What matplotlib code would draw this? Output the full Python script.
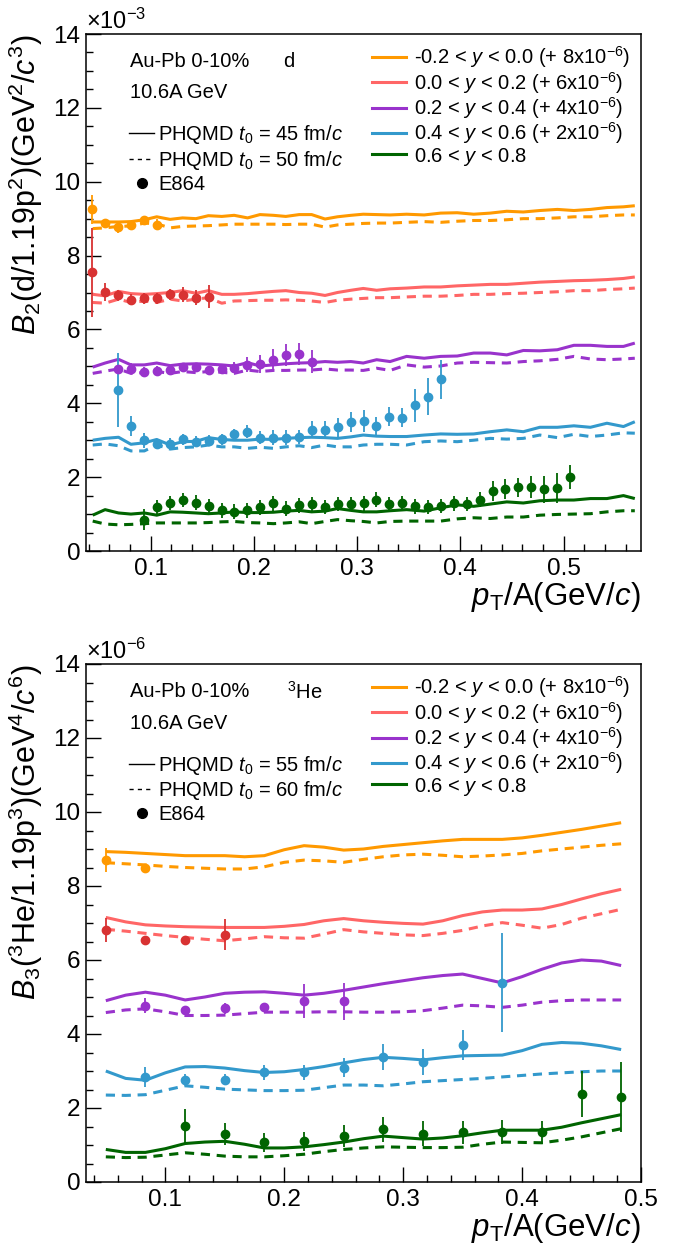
import matplotlib
matplotlib.use("Agg")
import matplotlib.pyplot as plt
from matplotlib.lines import Line2D
from matplotlib.ticker import MultipleLocator

plt.rcParams['font.family'] = ['Liberation Sans', 'DejaVu Sans']
plt.rcParams['mathtext.fontset'] = 'custom'
plt.rcParams['mathtext.rm'] = 'Liberation Sans'
plt.rcParams['mathtext.it'] = 'Liberation Sans:italic'
plt.rcParams['mathtext.bf'] = 'Liberation Sans:bold'

# ---------------- colours / labels ----------------
line_colors = ['#ff9900', '#ff6666', '#9933cc', '#3399cc', '#006400']
point_colors = ['#ff9900', '#d83232', '#9933cc', '#3399cc', '#006400']
rap_labels = ['-0.2 < $y$ < 0.0 (+ 8x10$^{-6}$)',
              '0.0 < $y$ < 0.2 (+ 6x10$^{-6}$)',
              '0.2 < $y$ < 0.4 (+ 4x10$^{-6}$)',
              '0.4 < $y$ < 0.6 (+ 2x10$^{-6}$)',
              '0.6 < $y$ < 0.8']

# ---------------- top panel: deuteron B2 (x1e-3) ----------------
d_x = [0.044, 0.056, 0.069, 0.081, 0.094, 0.106, 0.119, 0.131, 0.144, 0.156,
       0.169, 0.181, 0.194, 0.206, 0.219, 0.231, 0.244, 0.256, 0.269, 0.281,
       0.294, 0.306, 0.319, 0.332, 0.348, 0.365, 0.381, 0.397, 0.413, 0.429,
       0.445, 0.461, 0.477, 0.494, 0.510, 0.526, 0.542, 0.558, 0.569]

d_solid = [
    [8.91, 8.91, 8.91, 8.92, 8.97, 9.05, 8.98, 9.02, 9.00, 9.08, 9.06, 9.09, 9.02,
     9.11, 9.09, 9.06, 9.11, 9.11, 8.99, 9.05, 9.09, 9.12, 9.11, 9.10, 9.12, 9.10,
     9.15, 9.16, 9.12, 9.15, 9.20, 9.18, 9.22, 9.25, 9.22, 9.25, 9.30, 9.32, 9.35],
    [6.95, 6.91, 7.03, 6.97, 6.95, 6.97, 7.00, 7.05, 6.98, 7.05, 6.95, 6.95, 6.97,
     7.00, 7.03, 7.05, 7.00, 6.98, 6.92, 7.00, 7.06, 7.11, 7.06, 7.10, 7.12, 7.15,
     7.15, 7.18, 7.20, 7.22, 7.22, 7.25, 7.28, 7.30, 7.32, 7.33, 7.35, 7.38, 7.42],
    [4.98, 5.09, 5.19, 5.04, 5.04, 5.09, 5.02, 5.06, 5.07, 5.06, 5.04, 5.01, 5.10,
     5.01, 5.04, 5.07, 5.09, 5.10, 5.13, 5.11, 5.13, 5.09, 5.18, 5.13, 5.27, 5.22,
     5.27, 5.28, 5.36, 5.36, 5.31, 5.43, 5.42, 5.45, 5.57, 5.57, 5.54, 5.54, 5.63],
    [3.00, 3.05, 3.08, 2.89, 2.93, 3.02, 2.87, 2.96, 2.97, 3.07, 3.02, 3.00, 3.00,
     3.03, 3.02, 3.05, 3.07, 3.08, 3.07, 3.05, 3.09, 3.14, 3.11, 3.10, 3.10, 3.14,
     3.17, 3.16, 3.17, 3.23, 3.28, 3.23, 3.35, 3.35, 3.39, 3.35, 3.46, 3.37, 3.50],
    [0.97, 1.12, 1.03, 1.00, 1.03, 0.97, 1.06, 1.05, 1.03, 1.01, 1.03, 1.06, 1.04,
     1.04, 1.05, 1.08, 1.10, 1.06, 1.08, 1.15, 1.10, 1.06, 1.06, 1.09, 1.12, 1.08,
     1.17, 1.25, 1.21, 1.27, 1.33, 1.30, 1.36, 1.38, 1.38, 1.42, 1.42, 1.50, 1.42],
]
d_dashed = [
    [8.73, 8.75, 8.79, 8.80, 8.88, 8.86, 8.75, 8.79, 8.80, 8.81, 8.83, 8.85, 8.85,
     8.85, 8.85, 8.84, 8.85, 8.85, 8.77, 8.83, 8.85, 8.87, 8.88, 8.88, 8.90, 8.92,
     8.90, 8.93, 8.95, 8.95, 8.97, 9.00, 9.00, 9.02, 9.05, 9.05, 9.08, 9.10, 9.10],
    [6.73, 6.71, 6.82, 6.73, 6.77, 6.73, 6.82, 6.77, 6.82, 6.86, 6.71, 6.77, 6.78,
     6.79, 6.79, 6.80, 6.79, 6.77, 6.73, 6.79, 6.82, 6.84, 6.86, 6.86, 6.88, 6.90,
     6.90, 6.92, 6.95, 6.95, 6.97, 6.98, 7.00, 7.02, 7.05, 7.05, 7.08, 7.10, 7.12],
    [4.81, 4.87, 4.93, 4.81, 4.83, 4.86, 4.81, 4.86, 4.83, 4.86, 4.84, 4.81, 4.90,
     4.86, 4.89, 4.89, 4.90, 4.90, 4.93, 4.90, 4.90, 4.89, 4.95, 4.89, 5.04, 4.98,
     5.01, 5.09, 5.11, 5.10, 5.09, 5.13, 5.15, 5.19, 5.27, 5.20, 5.18, 5.20, 5.22],
    [2.87, 2.90, 2.85, 2.71, 2.71, 2.87, 2.76, 2.80, 2.82, 2.87, 2.82, 2.82, 2.78,
     2.81, 2.78, 2.82, 2.85, 2.80, 2.87, 2.82, 2.82, 2.87, 2.89, 2.89, 2.87, 2.96,
     2.98, 2.96, 3.00, 3.05, 3.03, 3.05, 3.14, 3.07, 3.16, 3.10, 3.14, 3.20, 3.19],
    [0.81, 0.73, 0.71, 0.72, 0.74, 0.76, 0.76, 0.76, 0.76, 0.77, 0.79, 0.80, 0.77,
     0.76, 0.74, 0.76, 0.79, 0.74, 0.80, 0.85, 0.82, 0.80, 0.76, 0.80, 0.81, 0.81,
     0.81, 0.87, 0.90, 0.88, 0.92, 0.92, 0.97, 0.99, 1.00, 1.01, 1.06, 1.09, 1.09],
]

# E864 deuteron points (bin centres 0.04375 + 0.0125*i)
d_pt_x = [0.04375 + 0.0125 * i for i in range(38)]
d_pt_first = [0, 0, 2, 2, 4]
d_pt_y = [
    [9.25, 8.88, 8.77, 8.82, 8.95, 8.83],
    [7.55, 7.02, 6.93, 6.80, 6.84, 6.85, 6.95, 6.94, 6.86, 6.89],
    [4.93, 4.93, 4.86, 4.88, 4.90, 4.98, 4.98, 4.89, 4.92, 4.96, 5.04, 5.07, 5.18,
     5.31, 5.33, 5.13],
    [4.36, 3.39, 3.00, 2.91, 2.91, 3.02, 2.96, 2.99, 3.02, 3.16, 3.23, 3.07, 3.07,
     3.07, 3.09, 3.29, 3.29, 3.35, 3.49, 3.53, 3.39, 3.64, 3.61, 3.95, 4.18, 4.65],
    [0.85, 1.18, 1.30, 1.38, 1.31, 1.22, 1.10, 1.06, 1.10, 1.18, 1.29, 1.15, 1.24,
     1.27, 1.19, 1.27, 1.27, 1.29, 1.39, 1.26, 1.30, 1.21, 1.19, 1.22, 1.29, 1.27,
     1.39, 1.63, 1.67, 1.72, 1.74, 1.67, 1.71, 2.01],
]
d_pt_err = [
    [0.40, 0.12, 0.15, 0.12, 0.12, 0.15],
    [1.20, 0.25, 0.15, 0.15, 0.15, 0.15, 0.15, 0.20, 0.20, 0.30],
    [0.12, 0.15, 0.12, 0.12, 0.12, 0.12, 0.12, 0.12, 0.12, 0.15, 0.20, 0.25, 0.30,
     0.30, 0.30, 0.30],
    [1.00, 0.27, 0.20, 0.12, 0.15, 0.15, 0.15, 0.15, 0.15, 0.15, 0.18, 0.18, 0.20,
     0.20, 0.20, 0.22, 0.22, 0.25, 0.27, 0.30, 0.25, 0.25, 0.25, 0.45, 0.50, 0.53],
    [0.28, 0.20, 0.20, 0.20, 0.20, 0.20, 0.20, 0.20, 0.20, 0.20, 0.20, 0.20, 0.20,
     0.20, 0.20, 0.20, 0.20, 0.20, 0.20, 0.20, 0.20, 0.20, 0.20, 0.20, 0.20, 0.20,
     0.20, 0.27, 0.27, 0.27, 0.30, 0.37, 0.40, 0.33],
]

# ---------------- bottom panel: 3He B3 (x1e-6) ----------------
he_x = [0.0500, 0.0667, 0.0833, 0.1000, 0.1167, 0.1333, 0.1500, 0.1667, 0.1833,
        0.2000, 0.2167, 0.2333, 0.2500, 0.2667, 0.2833, 0.3000, 0.3167, 0.3333,
        0.3500, 0.3667, 0.3833, 0.4000, 0.4167, 0.4333, 0.4500, 0.4667, 0.4833]

he_solid = [
    [8.93, 8.91, 8.88, 8.85, 8.82, 8.82, 8.82, 8.79, 8.82, 8.98, 9.09, 9.05, 8.97,
     9.00, 9.07, 9.12, 9.17, 9.22, 9.26, 9.26, 9.26, 9.30, 9.37, 9.45, 9.53, 9.62, 9.71],
    [7.15, 7.03, 6.95, 6.92, 6.90, 6.89, 6.88, 6.88, 6.88, 6.91, 6.96, 7.06, 7.12,
     7.06, 7.02, 6.99, 6.97, 7.06, 7.20, 7.30, 7.35, 7.35, 7.38, 7.50, 7.65, 7.79, 7.91],
    [4.90, 5.05, 5.13, 5.05, 4.92, 5.00, 5.10, 5.13, 5.14, 5.10, 5.05, 5.10, 5.18,
     5.27, 5.36, 5.44, 5.52, 5.58, 5.62, 5.50, 5.38, 5.55, 5.75, 5.92, 6.00, 5.97, 5.85],
    [3.00, 2.80, 2.75, 2.95, 3.11, 3.12, 3.08, 3.01, 2.96, 2.98, 3.04, 3.12, 3.22,
     3.31, 3.37, 3.34, 3.30, 3.36, 3.41, 3.42, 3.43, 3.55, 3.72, 3.77, 3.75, 3.68, 3.58],
    [0.88, 0.80, 0.80, 0.90, 1.04, 1.08, 1.10, 1.02, 0.92, 0.92, 0.95, 1.01, 1.08,
     1.17, 1.24, 1.20, 1.16, 1.19, 1.25, 1.33, 1.40, 1.40, 1.40, 1.48, 1.60, 1.71, 1.82],
]
he_dashed = [
    [8.63, 8.60, 8.57, 8.53, 8.50, 8.48, 8.46, 8.46, 8.52, 8.64, 8.70, 8.68, 8.64,
     8.72, 8.79, 8.84, 8.86, 8.83, 8.79, 8.81, 8.84, 8.88, 8.95, 9.00, 9.05, 9.10, 9.14],
    [6.83, 6.78, 6.72, 6.66, 6.61, 6.56, 6.52, 6.57, 6.63, 6.60, 6.59, 6.70, 6.82,
     6.76, 6.72, 6.68, 6.66, 6.72, 6.80, 6.92, 7.01, 6.94, 6.86, 6.96, 7.13, 7.25, 7.37],
    [4.58, 4.65, 4.68, 4.60, 4.50, 4.50, 4.51, 4.55, 4.59, 4.59, 4.59, 4.60, 4.60,
     4.59, 4.59, 4.60, 4.63, 4.70, 4.78, 4.76, 4.72, 4.78, 4.86, 4.90, 4.92, 4.92, 4.92],
    [2.35, 2.34, 2.36, 2.48, 2.60, 2.56, 2.51, 2.49, 2.47, 2.47, 2.48, 2.55, 2.62,
     2.62, 2.60, 2.65, 2.71, 2.74, 2.77, 2.80, 2.84, 2.88, 2.92, 2.95, 2.98, 3.00, 3.00],
    [0.68, 0.66, 0.67, 0.73, 0.79, 0.75, 0.70, 0.68, 0.68, 0.71, 0.75, 0.82, 0.88,
     0.92, 0.95, 0.94, 0.93, 0.93, 0.94, 1.02, 1.08, 1.07, 1.06, 1.13, 1.22, 1.33, 1.44],
]

# E864 3He points (bin centres 0.05 + i/30)
he_pt_x = [0.05 + i / 30 for i in range(14)]
he_pt_first = [0, 0, 1, 1, 2]
he_pt_y = [
    [8.70, 8.50],
    [6.81, 6.54, 6.54, 6.68],
    [4.77, 4.65, 4.69, 4.72, 4.89, 4.89],
    [2.84, 2.77, 2.77, 2.96, 2.96, 3.09, 3.37, 3.25, 3.70, 5.39],
    [1.51, 1.29, 1.07, 1.10, 1.25, 1.42, 1.31, 1.34, 1.35, 1.34, 2.37, 2.30],
]
he_pt_err = [
    [0.33, 0.10],
    [0.33, 0.12, 0.10, 0.42],
    [0.20, 0.10, 0.15, 0.10, 0.45, 0.50],
    [0.28, 0.15, 0.15, 0.20, 0.20, 0.25, 0.35, 0.35, 0.40, 1.33],
    [0.45, 0.30, 0.25, 0.25, 0.30, 0.35, 0.33, 0.30, 0.32, 0.30, 0.62, 0.95],
]

FS = 14.5


def draw_panel(ax, x, solid, dashed, pt_x, pt_first, pt_y, pt_err, xlim):
    for k in range(5):
        ax.plot(x, solid[k], color=line_colors[k], lw=2.2, solid_capstyle='butt')
        ax.plot(x, dashed[k], color=line_colors[k], lw=2.2, dashes=(3, 2.2))
        xs = pt_x[pt_first[k]:pt_first[k] + len(pt_y[k])]
        ax.errorbar(xs, pt_y[k], yerr=pt_err[k], fmt='o', color=point_colors[k],
                    ms=6, elinewidth=1.3, capsize=0, zorder=5)
    ax.set_xlim(*xlim)
    ax.set_ylim(0, 14)
    ax.yaxis.set_major_locator(MultipleLocator(2))
    ax.yaxis.set_minor_locator(MultipleLocator(0.5))
    ax.xaxis.set_major_locator(MultipleLocator(0.1))
    ax.xaxis.set_minor_locator(MultipleLocator(0.02))
    ax.tick_params(which='both', direction='in', labelsize=17.5, top=False, right=False)
    ax.tick_params(which='major', length=11, width=1.0)
    ax.tick_params(which='minor', length=5, width=1.0)
    ax.tick_params(axis='x', pad=5)
    ax.tick_params(axis='y', pad=4)
    for s in ax.spines.values():
        s.set_linewidth(1.1)


def draw_legends(ax, t0a, t0b):
    h_left = [Line2D([], [], color='k', lw=1.0),
              Line2D([], [], color='k', lw=1.0, dashes=(3, 3)),
              Line2D([], [], color='k', marker='o', ms=7, ls='none')]
    lab_left = ['PHQMD $t_0$ = %d fm/$c$' % t0a, 'PHQMD $t_0$ = %d fm/$c$' % t0b, 'E864']
    leg1 = ax.legend(h_left, lab_left, loc='upper left', bbox_to_anchor=(0.078, 0.827),
                     frameon=False, fontsize=FS, handlelength=1.25, handletextpad=0.2,
                     labelspacing=0.14, borderpad=0, borderaxespad=0)
    ax.add_artist(leg1)
    h_right = [Line2D([], [], color=c, lw=2.2) for c in line_colors]
    ax.legend(h_right, rap_labels, loc='upper left', bbox_to_anchor=(0.516, 0.98),
              frameon=False, fontsize=FS, handlelength=1.65, handletextpad=0.4,
              labelspacing=-0.03, borderpad=0, borderaxespad=0)


fig = plt.figure(figsize=(6.8, 12.51), dpi=100)
W, H = 680.0, 1251.0

ax1 = fig.add_axes([86 / W, 1 - 551 / H, 555 / W, 517 / H])
draw_panel(ax1, d_x, d_solid, d_dashed, d_pt_x, d_pt_first, d_pt_y, d_pt_err, (0.0375, 0.575))
ax1.text(0.079, 0.946, 'Au-Pb 0-10%', transform=ax1.transAxes, fontsize=FS, va='center')
ax1.text(0.355, 0.946, 'd', transform=ax1.transAxes, fontsize=FS, va='center')
ax1.text(0.079, 0.886, '10.6A GeV', transform=ax1.transAxes, fontsize=FS, va='center')
draw_legends(ax1, 45, 50)
ax1.text(0.0, 1.0, r'$\times$10$^{-3}$', transform=ax1.transAxes, fontsize=17,
         va='bottom', ha='left')
ax1.set_ylabel(r'$B_2$(d/1.19p$^2$)(GeV$^2$/$c^3$)', fontsize=22, loc='top', labelpad=6)
ax1.set_xlabel(r'$p_{\mathrm{T}}$/A(GeV/$c$)', fontsize=22.5, loc='right', labelpad=0)

ax2 = fig.add_axes([86 / W, 1 - 1182 / H, 555 / W, 518 / H])
draw_panel(ax2, he_x, he_solid, he_dashed, he_pt_x, he_pt_first, he_pt_y, he_pt_err, (1 / 30, 0.5))
ax2.text(0.079, 0.946, 'Au-Pb 0-10%', transform=ax2.transAxes, fontsize=FS, va='center')
ax2.text(0.362, 0.946, '$^{3}$He', transform=ax2.transAxes, fontsize=FS, va='center')
ax2.text(0.079, 0.886, '10.6A GeV', transform=ax2.transAxes, fontsize=FS, va='center')
draw_legends(ax2, 55, 60)
ax2.text(0.0, 1.0, r'$\times$10$^{-6}$', transform=ax2.transAxes, fontsize=17,
         va='bottom', ha='left')
ax2.set_ylabel(r'$B_3$($^3$He/1.19p$^3$)(GeV$^4$/$c^6$)', fontsize=22, loc='top', labelpad=6)
ax2.set_xlabel(r'$p_{\mathrm{T}}$/A(GeV/$c$)', fontsize=22.5, loc='right', labelpad=0)

fig.savefig('out.png', dpi=100)
